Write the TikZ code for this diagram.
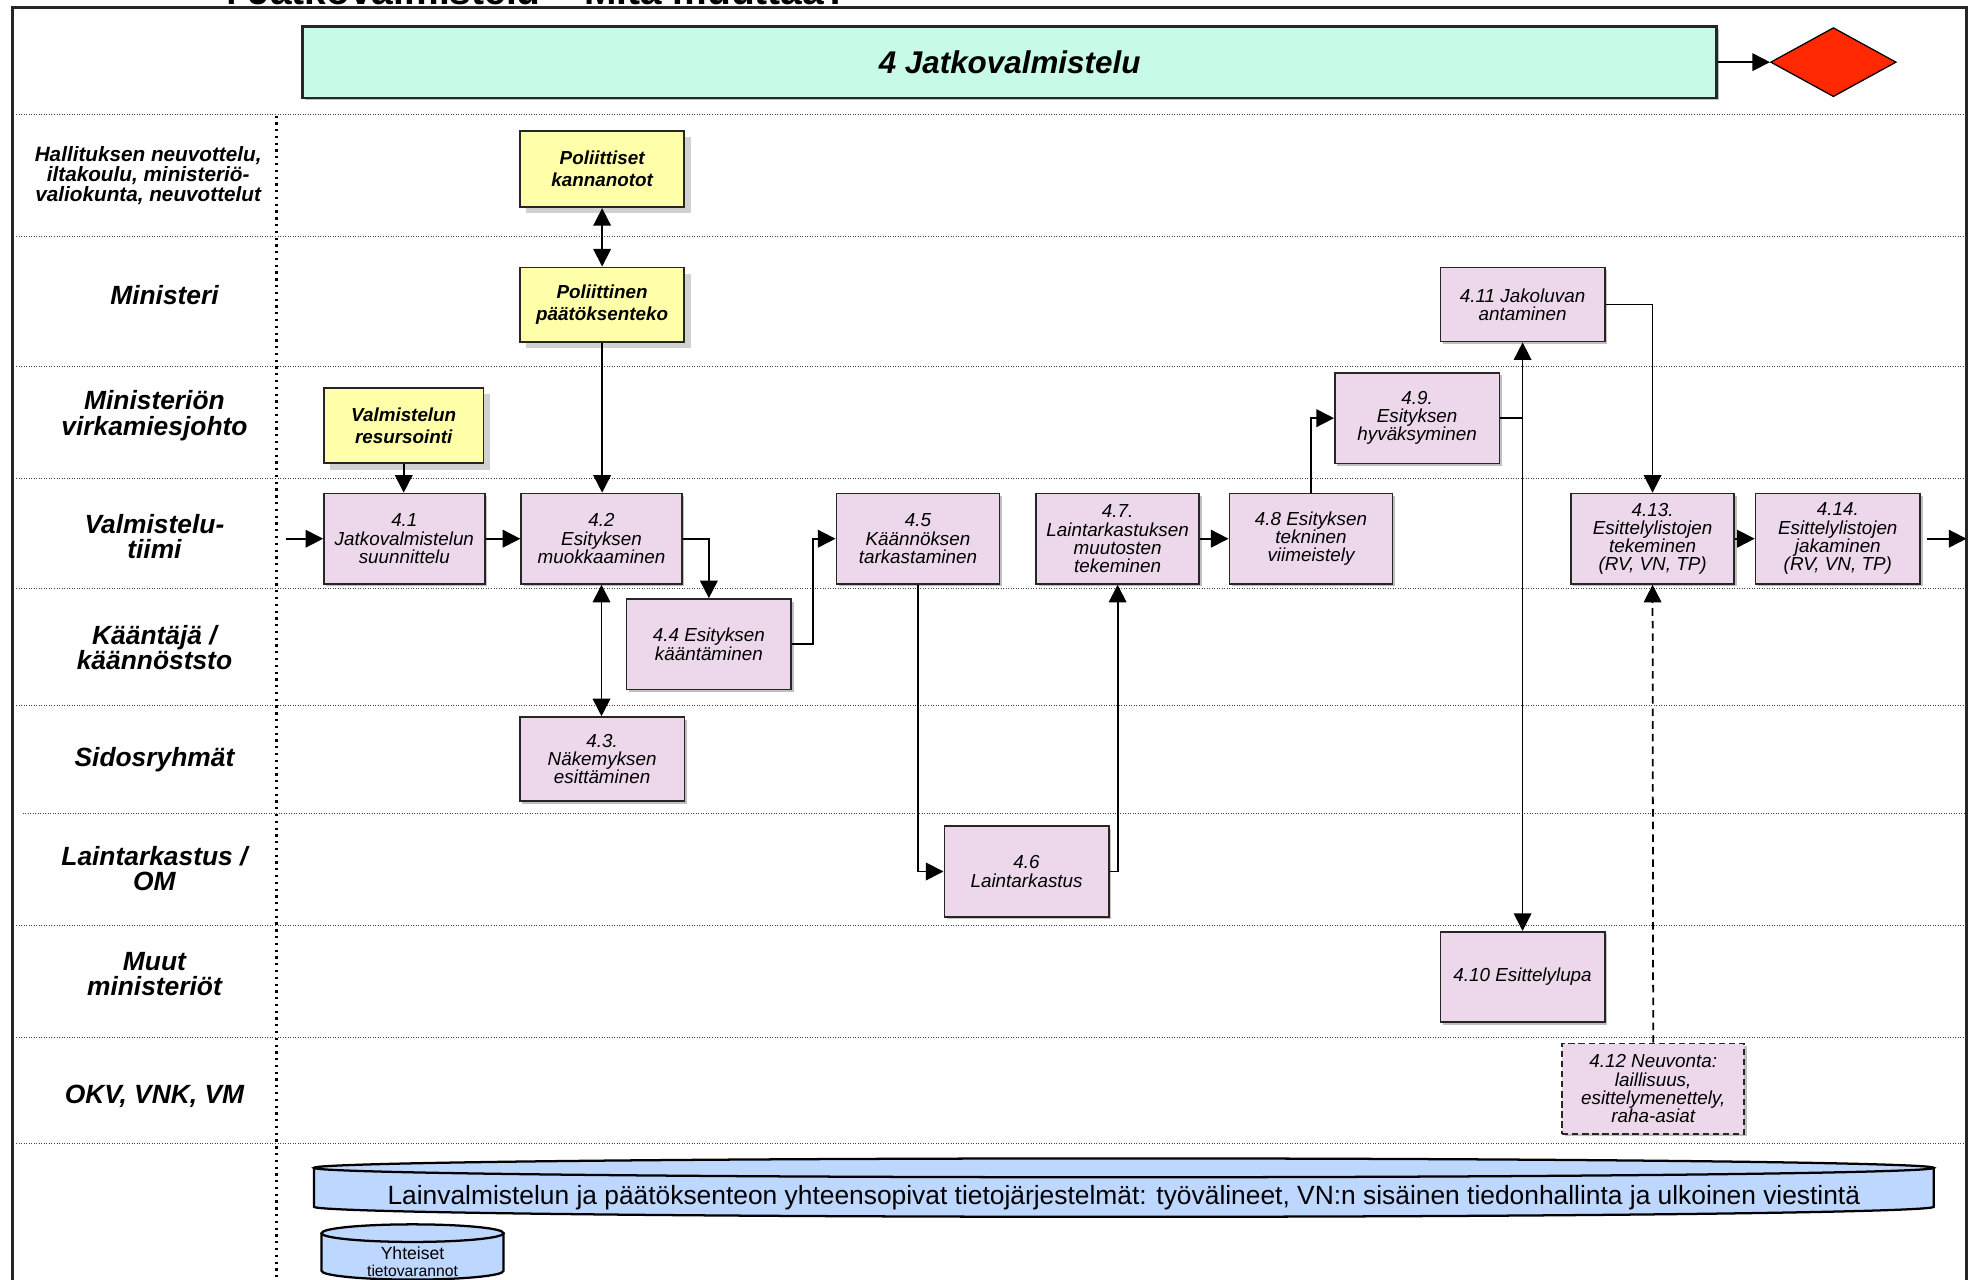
\documentclass[tikz,border=0pt]{standalone}
\usepackage{fontspec}
\setmainfont{Liberation Sans}
\usetikzlibrary{arrows.meta,shapes.geometric,shadows,calc}
\definecolor{pinkf}{RGB}{237,215,235}
\definecolor{yelf}{RGB}{255,255,170}
\definecolor{mintf}{RGB}{200,250,232}
\definecolor{redf}{RGB}{255,40,0}
\definecolor{cylf}{RGB}{189,215,255}
\begin{document}
\begin{tikzpicture}[x=1pt,y=-1pt,
  lane/.style={draw=black!75, line width=0.8pt, dash pattern=on 0.7pt off 1.3pt},
  divider/.style={draw=black, line width=2pt, dash pattern=on 1.8pt off 3.6pt},
  lanelab/.style={align=center, font=\fontsize{21}{20}\selectfont\bfseries\itshape},
  smalllab/.style={align=center, font=\fontsize{16.5}{16}\selectfont\bfseries\itshape},
  pbox/.style={draw=black!85, line width=1.3pt, fill=pinkf, align=center, inner sep=1pt,
    font=\fontsize{15}{14.5}\selectfont\itshape,
    drop shadow={shadow xshift=2pt, shadow yshift=-2pt, opacity=0.25, fill=black}},
  ybox/.style={draw=black!85, line width=1.5pt, fill=yelf, align=center, inner sep=1pt,
    font=\fontsize{15}{17}\selectfont\bfseries\itshape,
    drop shadow={shadow xshift=5pt, shadow yshift=-5pt, opacity=0.18, fill=black}},
  arr/.style={line width=1.4pt, -{Triangle[length=14pt,width=14pt]}},
  darr/.style={line width=1.4pt, {Triangle[length=14pt,width=14pt]}-{Triangle[length=14pt,width=14pt]}},
  cyl/.style={draw=black, line width=1.8pt},
]
\useasboundingbox (0,0) rectangle (1568,1019);
\clip (0,0) rectangle (1568,1019);

% title (cut off at top, as in the reference)
\node[anchor=base west, inner sep=0, font=\fontsize{31}{31}\selectfont\bfseries] (ttl) at (172,3.5) {4 Jatkovalmistelu – Mitä muuttaa?};

% frame
\draw[line width=1.8pt, black!85] (10,1030) -- (10,6) -- (1566,6) -- (1566,1030);

% lanes
\foreach \yy in {91,188,292,381,469,562,737,826,911}
  \draw[lane] (13,\yy) -- (1565,\yy);
\draw[lane] (18,648) -- (1565,648);
\draw[divider] (220,92) -- (220,1019);

% header
\node[draw=black!85, line width=2pt, fill=mintf, minimum width=1126pt, minimum height=57pt, inner sep=0,
  font=\fontsize{25}{25}\selectfont\bfseries\itshape,
  drop shadow={shadow xshift=2pt, shadow yshift=-2pt, opacity=0.25, fill=black}] (hdr) at (804,49.5) {4 Jatkovalmistelu};
\node[diamond, draw=black, line width=1pt, fill=redf, minimum width=100pt, minimum height=55pt, inner sep=0, aspect=1.8] (dia) at (1460,49.5) {};
\draw[arr] (hdr.east) -- (dia.west);

% lane labels
\node[smalllab] (l1) at (118,140) {Hallituksen neuvottelu,\\iltakoulu, ministeriö-\\valiokunta, neuvottelut};
\node[lanelab] (l2) at (131,235) {Ministeri};
\node[lanelab] (l3) at (123,331) {Ministeriön\\virkamiesjohto};
\node[lanelab] (l4) at (123,427) {Valmistelu-\\tiimi};
\node[lanelab] (l5) at (123,516) {Kääntäjä /\\käännöststo};
\node[lanelab] (l6) at (123,605) {Sidosryhmät};
\node[lanelab] (l7) at (123,692) {Laintarkastus /\\OM};
\node[lanelab] (l8) at (123,776) {Muut\\ministeriöt};
\node[lanelab] (l9) at (123,873) {OKV, VNK, VM};

% yellow boxes
\node[ybox, minimum width=131pt, minimum height=61pt] (pk) at (479.5,134.5) {Poliittiset\\kannanotot};
\node[ybox, minimum width=131pt, minimum height=59pt] (pp) at (479.5,242.5) {Poliittinen\\päätöksenteko};
\node[ybox, minimum width=127pt, minimum height=60pt] (vr) at (321.5,339) {Valmistelun\\resursointi};

% pink boxes
\node[pbox, minimum width=128pt, minimum height=72pt] (n41) at (322,429) {4.1\\Jatkovalmistelun\\suunnittelu};
\node[pbox, minimum width=128pt, minimum height=72pt] (n42) at (479,429) {4.2\\Esityksen\\muokkaaminen};
\node[pbox, minimum width=131pt, minimum height=72pt] (n44) at (564.5,513) {4.4 Esityksen\\kääntäminen};
\node[pbox, minimum width=131pt, minimum height=67pt] (n43) at (479.5,604.5) {4.3.\\Näkemyksen\\esittäminen};
\node[pbox, minimum width=130pt, minimum height=72pt] (n45) at (731,429) {4.5\\Käännöksen\\tarkastaminen};
\node[pbox, minimum width=131pt, minimum height=72pt] (n46) at (817.5,694) {4.6\\Laintarkastus};
\node[pbox, minimum width=130pt, minimum height=72pt] (n47) at (890,429) {4.7.\\Laintarkastuksen\\muutosten\\tekeminen};
\node[pbox, minimum width=130pt, minimum height=72pt] (n48) at (1044,429) {4.8 Esityksen\\tekninen\\viimeistely};
\node[pbox, minimum width=131pt, minimum height=72pt] (n49) at (1128.5,333) {4.9.\\Esityksen\\hyväksyminen};
\node[pbox, minimum width=131pt, minimum height=59pt] (n411) at (1212.5,242.5) {4.11 Jakoluvan\\antaminen};
\node[pbox, minimum width=131pt, minimum height=72pt] (n410) at (1212.5,778) {4.10 Esittelylupa};
\node[pbox, dashed, dash pattern=on 5pt off 3pt, minimum width=145pt, minimum height=72pt] (n412) at (1316.5,867) {4.12 Neuvonta:\\laillisuus,\\esittelymenettely,\\raha-asiat};
\node[pbox, minimum width=130pt, minimum height=72pt] (n413) at (1316,429) {4.13.\\Esittelylistojen\\tekeminen\\(RV, VN, TP)};
\node[pbox, minimum width=131pt, minimum height=72pt] (n414) at (1463.5,429) {4.14.\\Esittelylistojen\\jakaminen\\(RV, VN, TP)};

% connectors
\draw[darr] (pk.south) -- (pp.north);
\draw[arr] (pp.south) -- (pp.south |- n42.north);
\draw[arr] (vr.south) -- (vr.south |- n41.north);
\coordinate (in) at (228,429);
\draw[arr] (in) -- (n41.west);
\draw[arr] (n41) -- (n42);
\draw[arr] (n42.east) -| (n44.north);
\draw[darr] (n42.south) -- (n42.south |- n43.north);
\draw[arr] (n44.east) -- ++(17,0) |- (n45.west);
\draw[arr] (n45.south) |- (n46.west);
\draw[arr] (n46.east) -| (n47.south);
\draw[arr] (n47) -- (n48);
\draw[arr] (n48.north) |- (n49.west);
\coordinate (jn) at (n411.south |- n49.east);
\draw[line width=1.4pt] (n49.east) -- (jn);
\draw[darr] (n411.south) -- (n410.north);
\draw[arr] (n411.east) -| (n413.north);
\draw[arr, dash pattern=on 6pt off 4pt] (n412.north) -- (n413.south);
\draw[arr] (n413) -- (n414);
\coordinate (out) at (1566,429);
\draw[arr] ([xshift=5pt]n414.east) -- (out);

% big cylinder
\fill[cylf] (250,930) -- (250,961) arc[start angle=180,end angle=360,x radius=645pt,y radius=8pt]
  -- (1540,930) arc[start angle=0,end angle=180,x radius=645pt,y radius=7.5pt] -- cycle;
\draw[cyl] (250,930) -- (250,961) arc[start angle=180,end angle=360,x radius=645pt,y radius=8pt] -- (1540,930);
\draw[cyl] (895,930) ellipse[x radius=645pt,y radius=7.5pt];
\node[font=\fontsize{21}{21}\selectfont] (sys) at (895,954) {Lainvalmistelun ja päätöksenteon yhteensopivat tietojärjestelmät: työvälineet, VN:n sisäinen tiedonhallinta ja ulkoinen viestintä};

% small cylinder
\fill[cylf] (256,982) -- (256,1012) arc[start angle=180,end angle=360,x radius=72.5pt,y radius=7pt]
  -- (401,982) arc[start angle=0,end angle=180,x radius=72.5pt,y radius=7pt] -- cycle;
\draw[cyl] (256,982) -- (256,1012) arc[start angle=180,end angle=360,x radius=72.5pt,y radius=7pt] -- (401,982);
\draw[cyl] (328.5,982) ellipse[x radius=72.5pt,y radius=7pt];
\node[font=\fontsize{14}{14}\selectfont, inner sep=0] (yht) at (328.5,998) {Yhteiset};
\node[font=\fontsize{12.5}{12.5}\selectfont, inner sep=0] (tvr) at (328.5,1012) {tietovarannot};
\end{tikzpicture}
\end{document}
